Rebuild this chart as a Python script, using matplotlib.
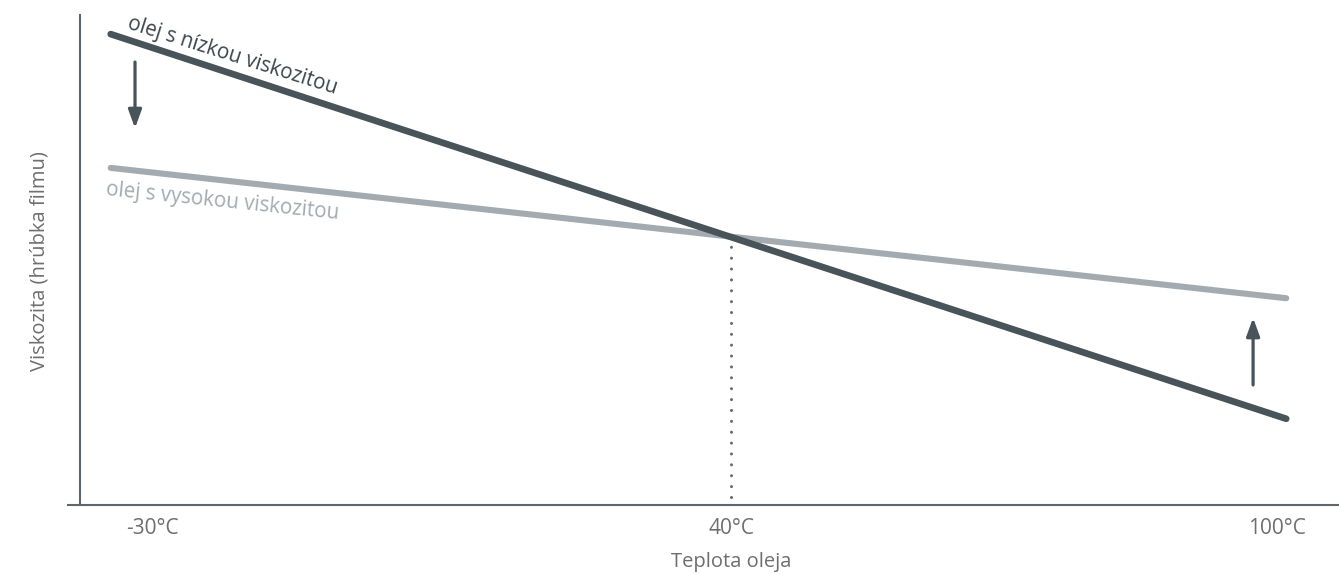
import matplotlib
matplotlib.use('Agg')
import matplotlib.pyplot as plt
import numpy as np

# Data (schematic viscosity vs temperature)
temps = [-35, 101]                  # line end points, degC
low_visc = [96.1, 17.6]             # olej s nizkou viskozitou
high_visc = [68.8, 42.2]            # olej s vysokou viskozitou
tick_temps = [-30, 40, 100]
tick_labels = ['-30°C', '40°C', '100°C']
cross_temp = 40
cross_val = 54.5

dark = '#48535a'
light = '#a3abb1'
axis_col = '#5d666c'
text_col = '#6e6e6e'

plt.rcParams['font.family'] = ['Open Sans', 'DejaVu Sans']


# the x axis in the picture is not evenly spaced between the ticks
def fwd(t):
    t = np.asarray(t, dtype=float)
    return np.where(t <= 40, (t + 30) * 579 / 70, 579 + (t - 40) * 546 / 60)


def inv(x):
    x = np.asarray(x, dtype=float)
    return np.where(x <= 579, x * 70 / 579 - 30, 40 + (x - 579) * 60 / 546)


fig = plt.figure(figsize=(13.39, 5.74), dpi=100)
ax = fig.add_axes([68 / 1339, 69 / 574, 1271 / 1339, 490 / 574])
ax.set_xscale('function', functions=(fwd, inv))
ax.set_xlim(-40.16, 106.8)
ax.set_ylim(0, 100)

# lines
ax.plot(temps, low_visc, color=dark, lw=4.8, solid_capstyle='round', zorder=3)
ax.plot(temps, high_visc, color=light, lw=4.4, solid_capstyle='round', zorder=2)

# dotted line at the crossing
ax.plot([cross_temp, cross_temp], [1.6, cross_val], color='#666b70', lw=2.2,
        linestyle=(0, (0.01, 3.55)), dash_capstyle='round', zorder=1)

# arrows
arrow_style = dict(arrowstyle='-|>,head_width=0.4,head_length=1.1',
                   color=dark, lw=2.3, shrinkA=0, shrinkB=0)
ax.annotate('', xy=(-32.06, 76.9), xytext=(-32.06, 90.4), arrowprops=arrow_style)
ax.annotate('', xy=(97.36, 38.2), xytext=(97.36, 24.5), arrowprops=arrow_style)

# line labels
ax.text(-20.33, 91.6, 'olej s nízkou viskozitou', color='#3c464c', fontsize=14.8,
        rotation=-17.5, ha='center', va='center', rotation_mode='anchor')
ax.text(-21.5, 62.0, 'olej s vysokou viskozitou', color=light, fontsize=14.8,
        rotation=-5.9, ha='center', va='center', rotation_mode='anchor')

# axes styling
for s in ['top', 'right']:
    ax.spines[s].set_visible(False)
ax.spines['left'].set_position(('axes', 12 / 1271))
for s in ['left', 'bottom']:
    ax.spines[s].set_color(axis_col)
    ax.spines[s].set_linewidth(1.5)

ax.set_xticks(tick_temps)
ax.set_xticklabels(tick_labels)
ax.xaxis.set_minor_locator(matplotlib.ticker.NullLocator())
ax.set_yticks([])
ax.tick_params(axis='x', length=0, pad=9, labelsize=15, labelcolor=text_col)

ax.text(40, -57 / 490, 'Teplota oleja', color=text_col, fontsize=14.5,
        ha='center', va='center', transform=ax.get_xaxis_transform())
fig.text(40 / 1339, 1 - 261 / 574, 'Viskozita (hrúbka filmu)', color=text_col,
         fontsize=14.5, rotation=90, ha='center', va='center')

fig.savefig('out.png', dpi=100)
